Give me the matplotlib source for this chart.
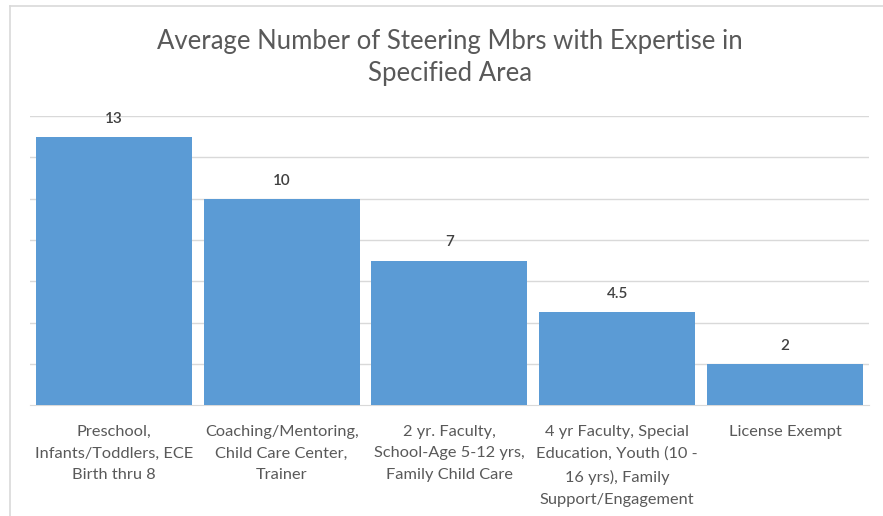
import matplotlib.pyplot as plt
from matplotlib.lines import Line2D

# data
categories = [
    "Preschool,\nInfants/Toddlers, ECE\nBirth thru 8",
    "Coaching/Mentoring,\nChild Care Center,\nTrainer",
    "2 yr. Faculty,\nSchool-Age 5-12 yrs,\nFamily Child Care",
    "4 yr Faculty, Special\nEducation, Youth (10 -\n16 yrs), Family\nSupport/Engagement",
    "License Exempt",
]
values = [13, 10, 7, 4.5, 2]
value_labels = ["13", "10", "7", "4.5", "2"]
title = "Average Number of Steering Mbrs with Expertise in\nSpecified Area"

plt.rcParams['font.family'] = ['Lato', 'DejaVu Sans']

fig = plt.figure(figsize=(8.83, 5.16), dpi=100)
ax = fig.add_axes([0.034, 0.215, 0.95, 0.56])

x = range(len(values))
ax.bar(x, values, width=0.93, color='#5b9bd5', zorder=3)

for i, v in enumerate(values):
    ax.annotate(value_labels[i], (i, v), xytext=(0, 8), textcoords='offset points',
                ha='center', va='bottom', fontsize=11, color='#404040', fontweight='semibold')

ax.set_ylim(0, 14)
ax.set_xlim(-0.5, len(values) - 0.5)
ax.set_yticks(range(2, 15, 2))
ax.yaxis.grid(True, color='#d9d9d9', linewidth=1, zorder=0)
ax.tick_params(axis='y', left=False, labelleft=False)
ax.tick_params(axis='x', length=0, pad=14)
ax.set_xticks(list(x))
ax.set_xticklabels(categories, fontsize=11.8, color='#595959', linespacing=1.72, va='top')
for s in ['top', 'right', 'left']:
    ax.spines[s].set_visible(False)
ax.spines['bottom'].set_color('#d9d9d9')

fig.text(0.51, 0.888, title, ha='center', va='center', fontsize=18.5, color='#595959', linespacing=1.35)

# chart frame (partly cropped in the reference)
fig.add_artist(Line2D([0.011, 1.0], [0.988, 0.988], color='#d9d9d9', linewidth=1.2))
fig.add_artist(Line2D([0.011, 0.011], [0.0, 0.988], color='#d9d9d9', linewidth=1.2))

fig.savefig('out.png', dpi=100, facecolor='white')
